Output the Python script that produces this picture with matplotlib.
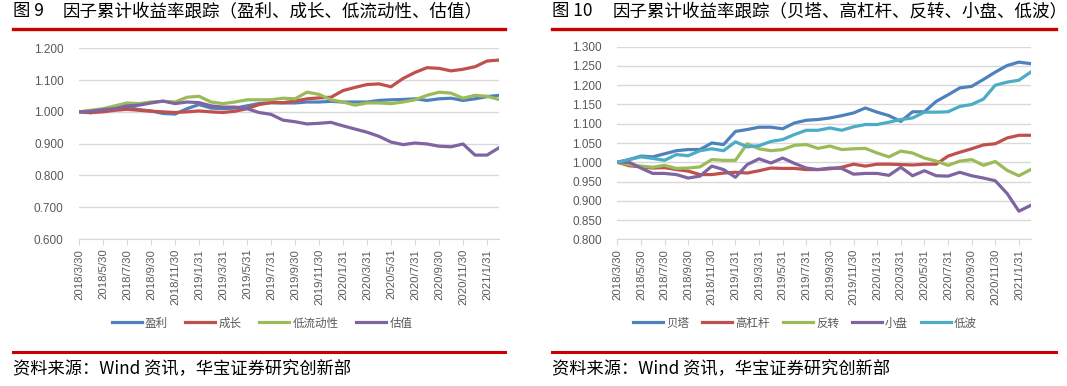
import numpy as np
import matplotlib.pyplot as plt
from matplotlib.lines import Line2D

plt.rcParams['font.family'] = ['Noto Sans CJK SC', 'DejaVu Sans']

# 月度数据，2018/3 ~ 2021/2，每两个月标一个刻度
tick_labels = ["2018/3/30", "2018/5/30", "2018/7/30", "2018/9/30", "2018/11/30",
               "2019/1/31", "2019/3/31", "2019/5/31", "2019/7/31", "2019/9/30",
               "2019/11/30", "2020/1/31", "2020/3/31", "2020/5/31", "2020/7/31",
               "2020/9/30", "2020/11/30", "2021/1/31"]

# 图9
profit = [1.000, 0.997, 1.005, 1.010, 1.015, 1.007, 1.003, 0.995, 0.993, 1.010, 1.023, 1.012,
          1.010, 1.012, 1.019, 1.026, 1.029, 1.028, 1.028, 1.031, 1.031, 1.033, 1.031, 1.031,
          1.031, 1.036, 1.038, 1.039, 1.041, 1.036, 1.041, 1.043, 1.036, 1.041, 1.048, 1.052]
growth = [1.000, 0.998, 1.000, 1.005, 1.008, 1.005, 1.002, 1.000, 0.998, 1.000, 1.003, 1.000,
          0.998, 1.002, 1.010, 1.023, 1.029, 1.029, 1.034, 1.041, 1.044, 1.046, 1.067, 1.077,
          1.086, 1.088, 1.079, 1.105, 1.124, 1.139, 1.137, 1.129, 1.134, 1.142, 1.160, 1.163]
liquidity = [1.000, 1.005, 1.010, 1.019, 1.028, 1.026, 1.031, 1.033, 1.031, 1.046, 1.049, 1.031,
             1.026, 1.031, 1.038, 1.038, 1.038, 1.043, 1.041, 1.062, 1.055, 1.038, 1.031, 1.021,
             1.028, 1.028, 1.026, 1.031, 1.038, 1.052, 1.062, 1.059, 1.043, 1.052, 1.049, 1.039]
value = [1.000, 1.002, 1.007, 1.010, 1.019, 1.021, 1.028, 1.034, 1.026, 1.031, 1.029, 1.019,
         1.015, 1.015, 1.010, 0.998, 0.992, 0.974, 0.969, 0.962, 0.964, 0.967, 0.956, 0.946,
         0.936, 0.923, 0.905, 0.897, 0.902, 0.899, 0.892, 0.890, 0.899, 0.864, 0.864, 0.887]

# 图10
beta = [1.000, 1.007, 1.016, 1.014, 1.022, 1.030, 1.033, 1.033, 1.050, 1.046, 1.080, 1.085,
        1.091, 1.091, 1.087, 1.102, 1.109, 1.111, 1.115, 1.121, 1.128, 1.141, 1.130, 1.121,
        1.106, 1.131, 1.131, 1.158, 1.175, 1.193, 1.197, 1.215, 1.234, 1.251, 1.260, 1.256]
leverage = [1.000, 0.991, 0.988, 0.985, 0.986, 0.981, 0.977, 0.968, 0.968, 0.972, 0.974, 0.972,
            0.978, 0.985, 0.984, 0.984, 0.981, 0.981, 0.983, 0.987, 0.995, 0.990, 0.995, 0.995,
            0.994, 0.993, 0.995, 0.995, 1.016, 1.026, 1.035, 1.045, 1.048, 1.063, 1.070, 1.070]
reversal = [1.000, 0.994, 0.990, 0.987, 0.992, 0.984, 0.985, 0.988, 1.007, 1.005, 1.005, 1.048,
            1.035, 1.030, 1.033, 1.044, 1.046, 1.036, 1.042, 1.033, 1.035, 1.036, 1.024, 1.014,
            1.029, 1.024, 1.011, 1.003, 0.992, 1.003, 1.007, 0.992, 1.002, 0.979, 0.965, 0.981]
small_cap = [1.000, 1.000, 0.985, 0.971, 0.971, 0.968, 0.959, 0.964, 0.990, 0.981, 0.961, 0.994,
             1.009, 0.998, 1.011, 0.997, 0.985, 0.981, 0.985, 0.984, 0.969, 0.971, 0.971, 0.966,
             0.987, 0.965, 0.978, 0.965, 0.964, 0.974, 0.965, 0.959, 0.952, 0.919, 0.873, 0.888]
low_vol = [1.000, 1.007, 1.014, 1.010, 1.005, 1.020, 1.017, 1.030, 1.035, 1.030, 1.053, 1.040,
           1.043, 1.054, 1.059, 1.072, 1.083, 1.083, 1.089, 1.083, 1.092, 1.098, 1.098, 1.104,
           1.111, 1.115, 1.130, 1.130, 1.131, 1.145, 1.150, 1.164, 1.200, 1.208, 1.213, 1.234]

colors = ["#4F81BD", "#C0504D", "#9BBB59", "#8064A2", "#4BACC6"]
text_grey = "#595959"
grid_grey = "#D9D9D9"
red_bar = "#CC0000"

W, H = 1067, 386
fig = plt.figure(figsize=(W / 100, H / 100), dpi=100)


def px_box(x0, y0, x1, y1):
    # 像素坐标 -> figure 坐标
    return [x0 / W, 1 - y1 / H, (x1 - x0) / W, (y1 - y0) / H]


def draw_panel(box, series, names, ymin, ymax, ystep, legend_x, colspace):
    ax = fig.add_axes(box)
    x = np.arange(len(series[0]))
    for vals, name, c in zip(series, names, colors):
        ax.plot(x, vals, color=c, lw=2.3, label=name, solid_joinstyle="round")
    ax.set_xlim(0, len(x) - 1)
    ax.set_ylim(ymin, ymax)
    yt = np.arange(ymin, ymax + ystep / 2, ystep)
    ax.set_yticks(yt)
    ax.set_yticklabels(["%.3f" % v for v in yt])
    ax.set_xticks(x[::2])
    ax.set_xticklabels(tick_labels, rotation=90)
    ax.yaxis.grid(True, color=grid_grey, lw=1)
    ax.set_axisbelow(True)
    for s in ["top", "right", "left"]:
        ax.spines[s].set_visible(False)
    ax.spines["bottom"].set_color(grid_grey)
    ax.tick_params(axis="y", length=0, pad=11, labelsize=8.5, labelcolor=text_grey)
    ax.tick_params(axis="x", length=4, color=grid_grey, pad=3, labelsize=8.2, labelcolor=text_grey)
    for lab in ax.get_xticklabels() + ax.get_yticklabels():
        lab.set_family("Liberation Sans")
    fig.legend(*ax.get_legend_handles_labels(), loc="center",
               bbox_to_anchor=(legend_x / W, 1 - 323 / H), ncol=len(series),
               frameon=False, handlelength=2.6, handletextpad=0.3,
               columnspacing=colspace, prop={"size": 8.3},
               labelcolor=text_grey)
    return ax


draw_panel(px_box(79, 48.3, 499, 239), [profit, growth, liquidity, value],
           ["盈利", "成长", "低流动性", "估值"], 0.6, 1.2, 0.1, 262, 1.5)
draw_panel(px_box(617.3, 46.7, 1030.7, 239.3), [beta, leverage, reversal, small_cap, low_vol],
           ["贝塔", "高杠杆", "反转", "小盘", "低波"], 0.8, 1.3, 0.05, 805, 1.1)

# 标题、红线和资料来源
for x0, x1, num, title in [(13, 505, "图 9", "因子累计收益率跟踪（盈利、成长、低流动性、估值）"),
                           (552, 1056, "图 10", "因子累计收益率跟踪（贝塔、高杠杆、反转、小盘、低波）")]:
    fig.text(x0 / W, 1 - 11 / H, num, fontsize=12.5, va="center", ha="left", color="black")
    fig.text((x0 + (50 if num == "图 9" else 61)) / W, 1 - 11 / H, title, fontsize=12.6,
             va="center", ha="left", color="black")
    fig.add_artist(Line2D([x0 / W, x1 / W], [1 - 29.3 / H, 1 - 29.3 / H], color=red_bar, lw=2.4))
    fig.add_artist(Line2D([x0 / W, x1 / W], [1 - 352 / H, 1 - 352 / H], color=red_bar, lw=2.2))
    fig.text(x0 / W, 1 - 369 / H, "资料来源：Wind 资讯，华宝证券研究创新部", fontsize=12.4,
             va="center", ha="left", color="black")

fig.savefig("out.png", dpi=100)
